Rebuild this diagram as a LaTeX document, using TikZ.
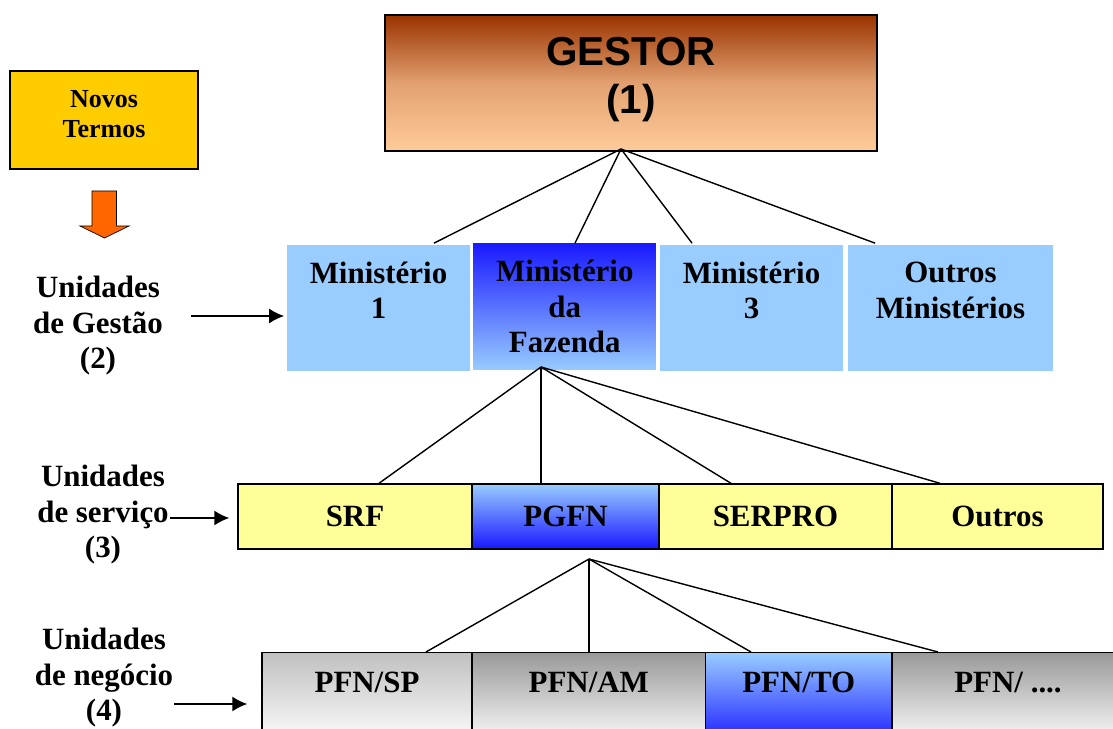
\documentclass[tikz,border=0pt]{standalone}
\usepackage{fontspec}
\setmainfont{Liberation Serif}
\newfontfamily\arialfont{Liberation Sans}
\usetikzlibrary{arrows.meta,calc,positioning}
\definecolor{gestortop}{RGB}{153,51,0}
\definecolor{gestormid}{RGB}{226,160,112}
\definecolor{gestorbot}{RGB}{255,204,153}
\definecolor{novosfill}{RGB}{255,204,0}
\definecolor{setafill}{RGB}{255,102,0}
\definecolor{azulclaro}{RGB}{153,204,255}
\definecolor{azulforte}{RGB}{24,24,255}
\definecolor{amarelo}{RGB}{255,255,153}
\definecolor{cinza}{RGB}{153,153,153}
\definecolor{cinzaclaro}{RGB}{192,192,192}
\tikzset{%
	boxfont/.style   = {font=\bfseries\fontsize{17.6}{20.2}\selectfont},
	gestorbox/.style = {draw, thick, rectangle, minimum width=9.84cm, minimum height=2.72cm, align=center, top color=gestortop, bottom color=gestorbot, middle color=gestormid, font=\arialfont\bfseries\fontsize{23}{27.3}\selectfont},
	novosbox/.style  = {draw, thick, rectangle, fill=novosfill, minimum width=3.76cm, minimum height=1.96cm, align=center, font=\bfseries\fontsize{14.8}{17}\selectfont},
	minbox/.style    = {draw=white, line width=1pt, rectangle, fill=azulclaro, minimum width=3.7cm, minimum height=2.56cm, align=center, boxfont},
	fazbox/.style    = {minbox, top color=azulforte, bottom color=azulclaro},
	servbox/.style   = {draw, thick, rectangle, fill=amarelo, minimum height=1.3cm, boxfont},
	pgfnbox/.style   = {servbox, top color=azulclaro, bottom color=azulforte},
	negbox/.style    = {draw, thick, rectangle, anchor=north, inner ysep=0pt, text height=0.8cm, text depth=1.06cm, boxfont},
	unidlabel/.style = {align=center, boxfont},
	fan/.style       = {line width=0.8pt},
	arrow/.style     = {line width=1pt, -{Latex[length=8.5pt,width=8.5pt]}},
}
\begin{document}
\begin{tikzpicture}[x=0.02cm,y=-0.02cm]
	\useasboundingbox (0,0) rectangle (1113,729);
	% gestor and legend
	\node[gestorbox] (gestor) at (631,83) {GESTOR\\(1)\\[-18.2pt]\mbox{}};
	\node[novosbox] (novos) at (104,120) {Novos\\Termos\\[-10.2pt]\mbox{}};
	\draw[thin, fill=setafill] (92,191) -- (116.5,191) -- (116.5,226) -- (129,226) -- (104.5,238) -- (80,226) -- (92,226) -- cycle;
	% unidades de gestao
	\node[minbox] (min1) at (378.5,308) {Ministério\\1\\\mbox{}};
	\node[fazbox] (faz) at (564.8,306.5) {Ministério\\da\\Fazenda};
	\node[minbox] (min3) at (751.5,308) {Ministério\\3\\\mbox{}};
	\node[minbox, minimum width=4.14cm] (outm) at (950.5,308) {Outros\\Ministérios\\\mbox{}};
	% unidades de servico
	\node[servbox, minimum width=4.68cm] (srf) at (355,516.5) {SRF};
	\node[pgfnbox, minimum width=3.74cm] (pgfn) at (565.5,516.5) {PGFN};
	\node[servbox, minimum width=4.66cm] (serpro) at (775.5,516.5) {SERPRO};
	\node[servbox, minimum width=4.22cm] (outs) at (997.5,516.5) {Outros};
	% unidades de negocio
	\node[negbox, minimum width=4.2cm, top color=cinzaclaro, bottom color=white] (pfnsp) at (367,652) {PFN/SP};
	\node[negbox, minimum width=4.67cm, top color=cinza, bottom color=white] (pfnam) at (588.75,652) {PFN/AM};
	\node[negbox, minimum width=3.73cm, top color=azulclaro, bottom color=azulforte] (pfnto) at (798.75,652) {PFN/TO};
	\node[negbox, minimum width=4.64cm, top color=cinza, bottom color=white] (pfnx) at (1008,652) {PFN/ ....};
	% left labels
	\node[unidlabel] (ug) at (98,326) {Unidades\\de Gestão\\(2)};
	\node[unidlabel] (us) at (103,515) {Unidades\\de serviço\\(3)};
	\node[unidlabel] (un) at (104,678) {Unidades\\de negócio\\(4)};
	\coordinate (u2) at (191,316);
	\coordinate (u3) at (170,518);
	\coordinate (u4) at (174,704);
	\draw[arrow, shorten >=0.02cm] (u2) -- (u2 -| min1.west);
	\draw[arrow, shorten >=0.16cm] (u3) -- (u3 -| srf.west);
	\draw[arrow, shorten >=0.28cm] (u4) -- (u4 -| pfnsp.west);
	% fans
	\coordinate (gfan) at (621,149);
	\coordinate (zfan) at (541,367);
	\coordinate (pfan) at (589,559);
	\foreach \x in {434,575,692,875} \draw[fan] (gfan) -- (min1.north -| \x,0);
	\foreach \x in {379,541,731,940} \draw[fan] (zfan) -- (srf.north -| \x,0);
	\foreach \x in {426,589,751,938} \draw[fan] (pfan) -- (pfnsp.north -| \x,0);
\end{tikzpicture}
\end{document}
